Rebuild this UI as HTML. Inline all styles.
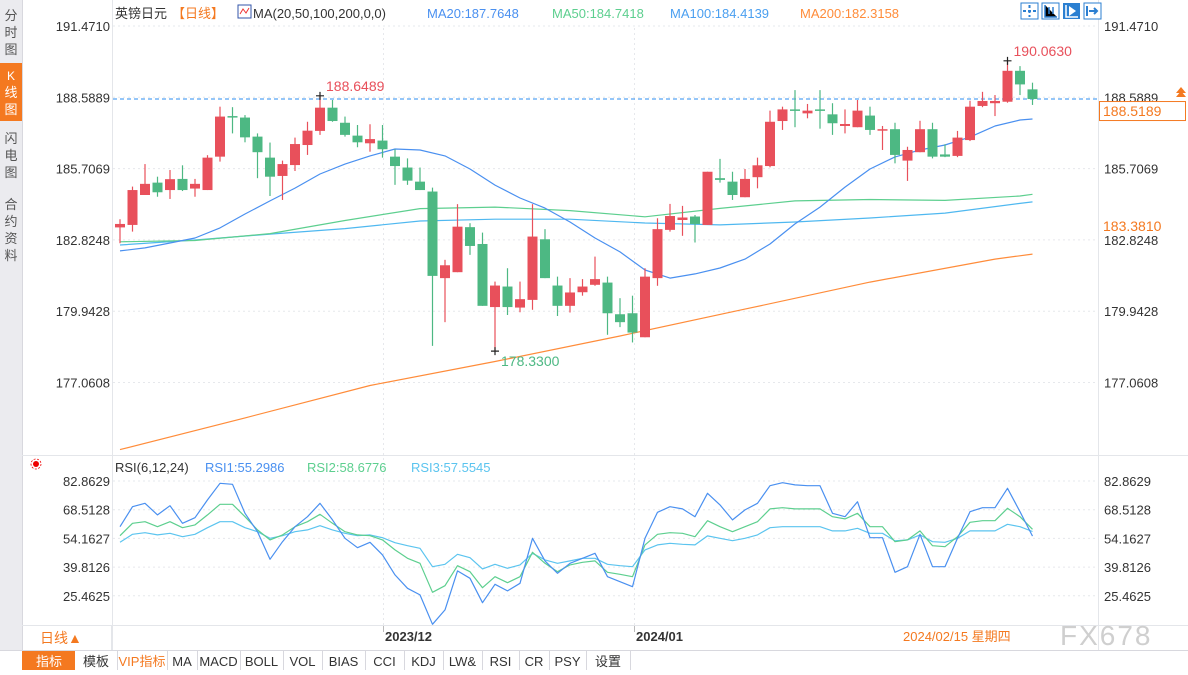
<!DOCTYPE html>
<html><head><meta charset="utf-8">
<style>
body{margin:0;background:#fff;width:1188px;height:670px;overflow:hidden;font-family:"Liberation Sans","Noto Sans CJK SC",sans-serif;}
svg text{font-family:"Liberation Sans","Noto Sans CJK SC",sans-serif;}
</style></head>
<body>
<svg id="chart" width="1188" height="670" viewBox="0 0 1188 670" xmlns="http://www.w3.org/2000/svg">
  <rect x="0" y="0" width="1188" height="670" fill="#fff"/>
  <g>
    <rect x="0" y="0" width="22" height="650" fill="#ebebef"/>
    <line x1="22.5" y1="0" x2="22.5" y2="650" stroke="#d8d8de"/>
    <g><text x="11" y="20" font-size="13" fill="#555" text-anchor="middle">分</text><text x="11" y="37" font-size="13" fill="#555" text-anchor="middle">时</text><text x="11" y="54" font-size="13" fill="#555" text-anchor="middle">图</text></g>
    <g><rect x="0" y="63" width="22" height="58" fill="#f47920"/><text x="11" y="80" font-size="12" fill="#fff" text-anchor="middle">K</text><text x="11" y="97" font-size="13" fill="#fff" text-anchor="middle">线</text><text x="11" y="114" font-size="13" fill="#fff" text-anchor="middle">图</text></g>
    <g><text x="11" y="143" font-size="13" fill="#555" text-anchor="middle">闪</text><text x="11" y="160" font-size="13" fill="#555" text-anchor="middle">电</text><text x="11" y="177" font-size="13" fill="#555" text-anchor="middle">图</text></g>
    <g><text x="11" y="209" font-size="13" fill="#555" text-anchor="middle">合</text><text x="11" y="226" font-size="13" fill="#555" text-anchor="middle">约</text><text x="11" y="243" font-size="13" fill="#555" text-anchor="middle">资</text><text x="11" y="260" font-size="13" fill="#555" text-anchor="middle">料</text></g>
  </g>
  <line x1="112.5" y1="0" x2="112.5" y2="650" stroke="#e4e6ea"/>
  <line x1="1098.5" y1="0" x2="1098.5" y2="650" stroke="#e4e6ea"/>
  <line x1="22" y1="455.5" x2="1188" y2="455.5" stroke="#e4e6ea"/>
  <line x1="22" y1="625.5" x2="1188" y2="625.5" stroke="#e4e6ea"/>
  <line x1="0" y1="650.5" x2="1188" y2="650.5" stroke="#d8d8de"/>
  <g id="grid"></g>
  <g id="axes"></g>
  <g id="malines"></g>
  <g id="candles"></g>
  <g id="rsi"></g>
  <g font-size="13">
    <text x="115" y="18" fill="#333">英镑日元</text>
    <text x="172" y="18" fill="#f47920">【日线】</text>
    <g><rect x="238" y="5" width="13" height="13" fill="#fff" stroke="#3355aa"/><polyline points="240,14 243,9 246,13 249,8" fill="none" stroke="#e33" stroke-width="1"/></g>
    <text x="253" y="18" fill="#333">MA(20,50,100,200,0,0)</text>
    <text x="427" y="18" fill="#4a90f0">MA20:187.7648</text>
    <text x="552" y="18" fill="#5dcf8f">MA50:184.7418</text>
    <text x="670" y="18" fill="#4a9ff0">MA100:184.4139</text>
    <text x="800" y="18" fill="#ff8c3a">MA200:182.3158</text>
  </g>
  <g>
    <g><rect x="1021" y="3" width="17" height="16" fill="#fff" stroke="#2b7fd1"/><path d="M1029.5 5v12M1023 11h13" stroke="#2b7fd1" stroke-width="2" stroke-dasharray="3,2"/></g>
    <g><rect x="1042" y="3" width="17" height="16" fill="#fff" stroke="#2b7fd1"/><path d="M1045 5v12h12M1049 7v7M1053 7v7" stroke="#2b7fd1" stroke-width="1.5"/></g>
    <g><rect x="1063" y="3" width="17" height="16" fill="#2b7fd1"/><path d="M1066 5v12h12" stroke="#fff" stroke-width="1.5" fill="none"/><path d="M1069 6l7 5-7 5z" fill="#fff"/></g>
    <g><rect x="1084" y="3" width="17" height="16" fill="#fff" stroke="#2b7fd1"/><path d="M1087 6v10M1089 11h8M1094 8l3 3-3 3" stroke="#2b7fd1" stroke-width="2" fill="none"/></g>
  </g>
  <g font-size="13">
    <g><circle cx="36" cy="464" r="3" fill="#e00"/><circle cx="36" cy="464" r="5" fill="none" stroke="#e00" stroke-width="0.8" stroke-dasharray="2,1.5"/></g>
    <text x="115" y="472" fill="#333">RSI(6,12,24)</text>
    <text x="205" y="472" fill="#4a90f0">RSI1:55.2986</text>
    <text x="307" y="472" fill="#5dcf8f">RSI2:58.6776</text>
    <text x="411" y="472" fill="#5bc4ef">RSI3:57.5545</text>
  </g>
  <g>
    <rect x="23" y="626" width="88" height="24" fill="#fff"/>
    <line x1="111.5" y1="626" x2="111.5" y2="650" stroke="#e4e6ea"/>
    <text x="40" y="643" font-size="14" fill="#f47920">日线▲</text>
    <line x1="383.5" y1="626" x2="383.5" y2="632" stroke="#bbb"/>
    <text x="385" y="641" font-size="13" fill="#333" font-weight="bold">2023/12</text>
    <line x1="634.5" y1="626" x2="634.5" y2="632" stroke="#bbb"/>
    <text x="636" y="641" font-size="13" fill="#333" font-weight="bold">2024/01</text>
    <text x="903" y="641" font-size="13" fill="#f47920">2024/02/15 星期四</text>
    <text x="1060" y="645" font-size="28" fill="#cfcfcf" letter-spacing="2">FX678</text>
  </g>
  <g font-size="13">
    <rect x="0" y="651" width="1188" height="19" fill="#fff"/>
    <rect x="22" y="651" width="53" height="19" fill="#f47920"/>
    <text x="36" y="666" fill="#fff">指标</text>
    <g id="tbtabs"></g>
  </g>
</svg>
<script>
const opens  = [183.33,183.43,184.64,185.14,184.84,185.29,184.90,184.84,186.19,187.83,187.77,187.00,186.15,185.41,185.85,186.66,187.23,188.17,187.56,187.04,186.73,186.84,186.19,185.75,185.18,184.78,181.28,181.52,183.34,182.66,180.11,180.94,180.09,180.40,182.85,180.98,180.16,180.71,181.01,181.10,179.82,179.86,178.89,181.28,183.23,183.63,183.77,183.43,185.32,185.18,184.55,185.36,185.81,187.63,188.10,187.94,188.10,187.90,187.43,187.38,187.85,187.24,187.30,186.03,186.37,187.30,186.28,186.22,186.86,188.24,188.35,188.41,189.66,188.91];
const highs  = [183.66,184.98,185.89,185.38,185.65,185.84,185.29,186.25,188.21,188.19,187.87,187.13,186.76,186.03,186.96,187.60,188.6489,188.48,187.81,187.47,187.50,187.47,186.49,186.12,185.75,184.94,182.02,184.27,183.50,183.12,181.14,181.68,181.14,184.27,183.26,181.34,181.28,181.24,182.15,181.34,180.47,180.57,181.68,183.70,184.28,184.20,183.83,185.58,186.10,185.58,185.69,186.15,188.05,188.21,188.88,188.32,188.88,188.35,188.10,188.48,188.21,187.43,187.56,186.59,187.64,187.56,186.69,187.23,188.45,188.81,188.68,190.063,189.85,189.18];
const lows   = [182.69,183.16,184.64,184.57,184.48,184.80,184.57,184.84,185.99,187.13,186.77,185.32,184.60,184.44,185.61,186.26,187.07,187.60,187.00,186.57,186.39,186.15,185.05,185.05,184.84,178.54,179.50,181.52,182.22,180.16,178.33,179.79,179.90,180.00,181.28,179.75,179.89,180.57,180.97,178.99,179.30,178.68,178.89,180.97,183.16,182.99,182.72,183.43,185.14,184.44,184.55,184.91,185.76,187.27,187.38,187.74,187.32,187.07,187.13,187.38,187.07,186.46,185.92,185.21,186.37,186.12,186.17,186.17,186.82,188.19,187.83,188.37,188.68,188.28];
const closes = [183.47,184.84,185.09,184.75,185.28,184.84,185.09,186.15,187.81,187.78,186.97,186.37,185.38,185.89,186.70,187.24,188.17,187.63,187.07,186.77,186.90,186.49,185.81,185.22,184.84,181.37,181.80,183.36,182.58,180.16,180.98,180.11,180.43,182.96,181.28,180.16,180.70,180.94,181.24,179.86,179.50,179.08,181.34,183.26,183.79,183.73,183.47,185.58,185.25,184.64,185.29,185.84,187.60,188.10,188.04,188.05,188.04,187.54,187.51,188.05,187.27,187.30,186.26,186.46,187.30,186.19,186.19,186.96,188.21,188.44,188.44,189.66,189.11,188.5189];

const ma20Idx  = [0,2,4,6,8,10,12,14,16,18,20,22,24,26,28,30,32,34,36,38,40,42,44,46,48,50,52,54,56,58,60,62,64,66,68,70,72,73];
const ma20Vals = [182.38,182.50,182.70,182.90,183.31,183.87,184.40,184.92,185.49,185.89,186.22,186.50,186.46,186.22,185.69,185.04,184.52,184.11,183.55,182.90,182.34,181.61,181.28,181.45,181.69,182.05,182.66,183.47,184.15,184.96,185.69,186.18,186.46,186.66,186.98,187.43,187.67,187.71];
const ma50Idx  = [0,6,12,18,24,30,36,42,48,54,60,66,72,73];
const ma50Vals = [182.75,182.80,183.08,183.61,184.09,184.15,184.01,183.76,184.10,184.40,184.46,184.42,184.60,184.67];
const ma100Idx  = [0,6,12,18,24,30,36,42,48,54,60,66,72,73];
const ma100Vals = [182.62,182.82,183.06,183.28,183.59,183.66,183.66,183.51,183.43,183.55,183.71,183.91,184.30,184.36];
const ma200Idx  = [0,10,20,30,40,50,60,70,73];
const ma200Vals = [174.35,175.63,176.94,177.91,178.94,180.03,181.12,182.05,182.25];

const rsi1 = [60.0,70.0,71.7,65.9,70.5,61.7,64.5,73.4,81.7,81.2,66.7,57.5,43.7,52.5,60.0,65.0,71.7,63.4,54.2,49.5,52.2,45.9,35.9,29.2,25.9,11.2,18.4,37.9,34.2,22.0,31.2,27.9,31.7,54.2,42.9,36.7,41.7,44.2,
  46.7,35.0,32.5,30.0,54.2,67.2,70.0,68.9,65.0,76.7,70.9,63.4,68.4,71.7,80.5,82.0,80.9,80.5,80.5,66.7,65.0,72.5,54.5,54.5,37.2,40.0,56.2,40.0,40.0,54.2,67.5,69.5,69.5,79.2,67.5,55.3];
const rsi2 = [55.5,61.7,62.5,60.0,62.5,59.5,60.9,65.9,71.2,71.2,65.0,58.4,53.4,55.9,60.0,62.5,66.2,61.7,57.5,55.9,55.5,53.4,48.4,44.2,41.7,27.2,30.5,40.5,37.5,29.5,35.0,32.0,35.0,47.2,41.7,37.5,40.9,42.2,
  42.9,37.2,36.2,35.0,50.9,56.2,57.0,56.7,55.0,63.0,60.0,57.5,60.0,62.5,68.9,69.5,68.9,68.9,68.9,65.0,63.9,66.7,60.0,60.0,52.5,53.4,57.9,50.5,50.0,55.0,62.2,63.0,63.0,69.2,65.0,58.7];
const rsi3 = [52.2,56.2,57.0,55.9,56.7,55.0,56.2,59.5,62.5,62.5,59.5,57.5,54.2,55.5,57.5,58.4,60.5,58.4,56.7,55.5,55.9,54.5,52.0,50.5,49.2,40.0,41.2,46.2,44.5,38.9,41.2,39.2,40.9,46.7,43.4,41.7,42.9,44.2,
  44.2,41.2,40.5,40.0,48.4,50.9,51.7,51.2,50.9,55.4,54.2,53.0,54.2,55.9,59.5,60.0,60.0,60.0,60.0,57.9,57.9,59.2,56.7,56.7,52.9,53.4,55.9,52.5,52.2,54.2,57.9,57.9,57.9,61.2,60.0,57.6];

const priceTicks = [191.4710,188.5889,185.7069,182.8248,179.9428,177.0608];
const rsiTicks = [82.8629,68.5128,54.1627,39.8126,25.4625];
const toolbarTabs = ["模板","VIP指标","MA","MACD","BOLL","VOL","BIAS","CCI","KDJ","LW&","RSI","CR","PSY","设置"];

const NS="http://www.w3.org/2000/svg";
const X0=120, STEP=12.5;
function xAt(i){return X0+STEP*i;}
function yP(p){return 26+(191.471-p)*24.74;}
function yR(v){return 481+(82.8629-v)*2.0;}
function mk(tag,attrs,parent){const e=document.createElementNS(NS,tag);for(const k in attrs)e.setAttribute(k,attrs[k]);parent.appendChild(e);return e;}

const grid=document.getElementById('grid'), axes=document.getElementById('axes');
priceTicks.forEach(t=>{
  const y=yP(t);
  const g=mk('line',{x1:113,x2:1098,y1:y,y2:y,stroke:'#e6e8ec','stroke-dasharray':'2,3'},grid);
  
  
  const l=mk('text',{x:110,y:y+5,'font-size':13,fill:'#333','text-anchor':'end'},axes);
  l.textContent=t.toFixed(4);
  
  
  const r=mk('text',{x:1104,y:y+5,'font-size':13,fill:'#333'},axes);
  r.textContent=t.toFixed(4);
  
  
});
rsiTicks.forEach(t=>{
  const y=yR(t);
  const g=mk('line',{x1:113,x2:1098,y1:y,y2:y,stroke:'#e6e8ec','stroke-dasharray':'2,3'},grid);
  
  
  const l=mk('text',{x:110,y:y+5,'font-size':13,fill:'#333','text-anchor':'end'},axes);
  l.textContent=t.toFixed(4);
  
  
  const r=mk('text',{x:1104,y:y+5,'font-size':13,fill:'#333'},axes);
  r.textContent=t.toFixed(4);
  
  
});
[383.5,634.5].forEach(x=>{
  const v=mk('line',{x1:x,x2:x,y1:28,y2:625,stroke:'#e6e8ec','stroke-dasharray':'2,3'},grid);
  
  
});

const lastV=closes[closes.length-1];
const lastY=yP(lastV);
const dl=mk('line',{x1:113,x2:1098,y1:lastY,y2:lastY,stroke:'#2b8cf0','stroke-dasharray':'4,3'},axes);


const lb=mk('rect',{x:1099.5,y:lastY+2.5,width:86,height:19,fill:'#fff',stroke:'#f47920'},axes);


const lt=mk('text',{x:1103,y:lastY+17,'font-size':14,fill:'#f47920'},axes);
lt.textContent=lastV.toFixed(4);


const ar=mk('path',{d:`M1176 ${lastY-2}l5-6 5 6zM1176 ${lastY-6}l5-6 5 6z`,fill:'#f47920'},axes);


const m2=mk('text',{x:1103,y:yP(183.381)+5,'font-size':14,fill:'#f47920'},axes);
m2.textContent='183.3810';



const maG=document.getElementById('malines');
function ma(idx,vals,color,name){
  const pts=idx.map((i,k)=>xAt(i)+','+yP(vals[k]).toFixed(1)).join(' ');
  const p=mk('polyline',{points:pts,fill:'none',stroke:color,'stroke-width':1.2,'stroke-linejoin':'round'},maG);
  
  
}
ma(ma200Idx,ma200Vals,'#ff8c3a','ma200-line');
ma(ma100Idx,ma100Vals,'#4fb8f0','ma100-line');
ma(ma50Idx,ma50Vals,'#5dcf8f','ma50-line');
ma(ma20Idx,ma20Vals,'#4a90f0','ma20-line');

const cG=document.getElementById('candles');
for(let i=0;i<opens.length;i++){
  const up=closes[i]>=opens[i];
  const col=up?'#e8505b':'#4db883';
  const x=xAt(i);
  const g=mk('g',{},cG);
  
  
  mk('line',{x1:x,x2:x,y1:yP(highs[i]),y2:yP(lows[i]),stroke:col,'stroke-width':1.2},g);
  const top=yP(Math.max(opens[i],closes[i])), bot=yP(Math.min(opens[i],closes[i]));
  mk('rect',{x:x-5,y:top,width:10,height:Math.max(1.5,bot-top),fill:col},g);
}
function mark(i,val,below,color,name){
  const x=xAt(i), y=yP(val);
  const g=mk('g',{},cG);
  
  
  mk('path',{d:`M${x-4} ${y}h8M${x} ${y-4}v8`,stroke:'#222','stroke-width':1.2},g);
  const t=mk('text',{x:x+6,y:below?y+15:y-5,'font-size':14,fill:color},g);
  t.textContent=val.toFixed(4);
}
const hiIdxA=highs.slice(0,30).indexOf(Math.max(...highs.slice(0,30)));
mark(hiIdxA,highs[hiIdxA],false,'#e8505b','high-annotation-left');
const loIdx=lows.indexOf(Math.min(...lows));
mark(loIdx,lows[loIdx],true,'#4db883','low-annotation');
const hiIdx=highs.indexOf(Math.max(...highs));
mark(hiIdx,highs[hiIdx],false,'#e8505b','high-annotation-right');

const rG=document.getElementById('rsi');
function rsiLine(vals,color,name){
  const pts=vals.map((v,i)=>xAt(i)+','+yR(v).toFixed(1)).join(' ');
  const p=mk('polyline',{points:pts,fill:'none',stroke:color,'stroke-width':1.2,'stroke-linejoin':'round'},rG);
  
  
}
rsiLine(rsi3,'#5bc4ef','rsi3-line');
rsiLine(rsi2,'#5dcf8f','rsi2-line');
rsiLine(rsi1,'#4a90f0','rsi1-line');

const tb=document.getElementById('tbtabs');
const tabW=[42,50,30,43,43,39,43,39,39,39,37,30,37,44];
let x=75;
toolbarTabs.forEach((t,k)=>{
  const w=tabW[k];
  const g=mk('g',{},tb);
  
  
  mk('line',{x1:x+w+0.5,x2:x+w+0.5,y1:651,y2:670,stroke:'#d8d8de'},g);
  const tx=mk('text',{x:x+w/2,y:666,'font-size':13,fill:t==='VIP指标'?'#f47920':'#333','text-anchor':'middle'},g);
  tx.textContent=t;
  x+=w;
});
</script>
</body></html>
